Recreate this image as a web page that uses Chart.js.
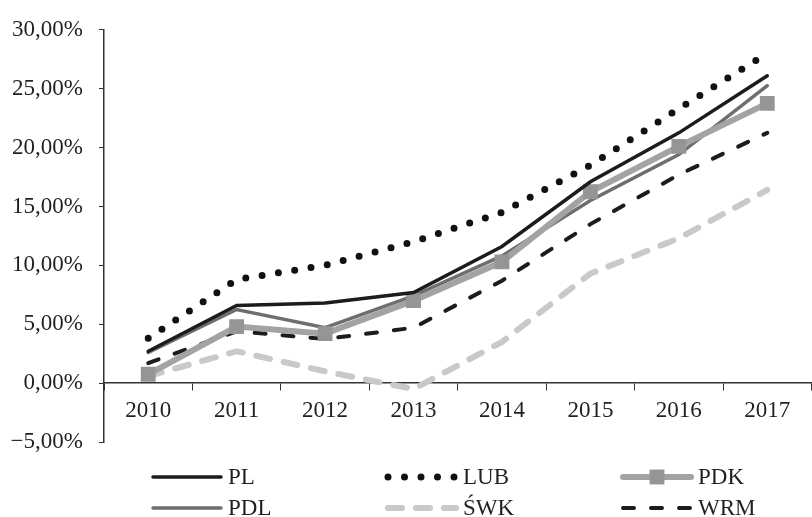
<!DOCTYPE html>
<html lang="pl">
<head>
<meta charset="UTF-8">
<title>Dynamika wskaźnika 2010-2017</title>
<script src="https://cdn.jsdelivr.net/npm/chart.js"></script>
<style>
    html, body { margin: 0; padding: 0; background: #fff; overflow: hidden; }
    canvas { display: block; }
</style>
</head>
<body>
<canvas id="chart" width="822" height="517"></canvas>
<script>
    const years = ['2010', '2011', '2012', '2013', '2014', '2015', '2016', '2017'];
    const pl  = [2.7, 6.6, 6.8, 7.7, 11.6, 17.1, 21.25, 26.1];
    const lub = [3.8, 8.8, 10.0, 12.0, 14.5, 18.5, 23.3, 28.0];
    const pdk = [0.75, 4.8, 4.2, 7.0, 10.3, 16.25, 20.1, 23.75];
    const pdl = [2.6, 6.25, 4.7, 7.4, 10.8, 15.5, 19.4, 25.25];
    const swk = [0.6, 2.7, 1.0, -0.5, 3.5, 9.3, 12.3, 16.4];
    const wrm = [1.7, 4.4, 3.75, 4.7, 8.7, 13.5, 17.7, 21.25];

    const FONT = '"Liberation Serif", "Times New Roman", serif';
    const TEXT = '#231f20';

    // legend layout (3 columns x 2 rows under the plot)
    const legendCols = [153, 388, 623];
    const legendRows = [477, 508];

    const fmt = v => (v < 0 ? '\u2212' : '') + Math.abs(v).toFixed(2).replace('.', ',') + '%';

    const bottomLegend = {
        id: 'bottomLegend',
        afterDraw(chart) {
            const ctx = chart.ctx;
            chart.data.datasets.forEach((ds, i) => {
                const x0 = legendCols[i % 3];
                const y = legendRows[Math.floor(i / 3)];
                ctx.save();
                ctx.strokeStyle = ds.borderColor;
                ctx.lineWidth = ds.borderWidth;
                ctx.lineCap = ds.borderCapStyle || 'butt';
                ctx.setLineDash(ds.borderDash || []);
                ctx.beginPath();
                ctx.moveTo(x0, y);
                ctx.lineTo(x0 + 68, y);
                ctx.stroke();
                if (ds.pointRadius > 0) {
                    const s = ds.pointRadius * Math.SQRT1_2;
                    ctx.fillStyle = ds.pointBackgroundColor;
                    ctx.fillRect(x0 + 34 - s, y - s, 2 * s, 2 * s);
                }
                ctx.setLineDash([]);
                ctx.fillStyle = TEXT;
                ctx.font = '23px ' + FONT;
                ctx.textBaseline = 'middle';
                ctx.fillText(ds.label, x0 + 75, y + 1);
                ctx.restore();
            });
        }
    };

    new Chart(document.getElementById('chart'), {
        type: 'line',
        data: {
            labels: years,
            datasets: [
                { label: 'PL', data: pl, borderColor: '#1c1c1c', borderWidth: 3.5, borderCapStyle: 'round', pointRadius: 0 },
                { label: 'LUB', data: lub, borderColor: '#111', borderWidth: 7, borderDash: [0, 16.5], borderCapStyle: 'round', pointRadius: 0 },
                { label: 'PDK', data: pdk, borderColor: '#a3a3a3', borderWidth: 6, borderCapStyle: 'round',
                  pointStyle: 'rect', pointRadius: 10.5, pointBackgroundColor: '#959595', pointBorderWidth: 0 },
                { label: 'PDL', data: pdl, borderColor: '#6e6e6e', borderWidth: 3.5, borderCapStyle: 'round', pointRadius: 0 },
                { label: '\u015AWK', data: swk, borderColor: '#c9c9c9', borderWidth: 6, borderDash: [14, 14], borderCapStyle: 'round', pointRadius: 0 },
                { label: 'WRM', data: wrm, borderColor: '#1c1c1c', borderWidth: 4, borderDash: [11, 17], borderCapStyle: 'round', pointRadius: 0 }
            ]
        },
        options: {
            responsive: false,
            animation: false,
            layout: { padding: { top: 22, left: 0, right: 4, bottom: 75 } },
            plugins: { legend: { display: false }, tooltip: { enabled: false } },
            elements: { line: { tension: 0 } },
            scales: {
                x: {
                    position: { y: 0 },
                    offset: true,
                    afterFit: s => { s.height = 0; },
                    grid: { offset: true, drawOnChartArea: false, tickLength: 7, color: '#333' },
                    border: { color: '#333', width: 1.5 },
                    ticks: { color: TEXT, font: { family: FONT, size: 23 }, padding: 7, maxRotation: 0, autoSkip: false }
                },
                y: {
                    min: -5,
                    max: 30,
                    afterFit: s => { s.width = 104; },
                    grid: { drawOnChartArea: false, tickLength: 5, color: '#333' },
                    border: { color: '#333', width: 1.5 },
                    ticks: { stepSize: 5, color: TEXT, font: { family: FONT, size: 23 }, padding: 16, callback: fmt }
                }
            }
        },
        plugins: [bottomLegend]
    });
</script>
</body>
</html>
